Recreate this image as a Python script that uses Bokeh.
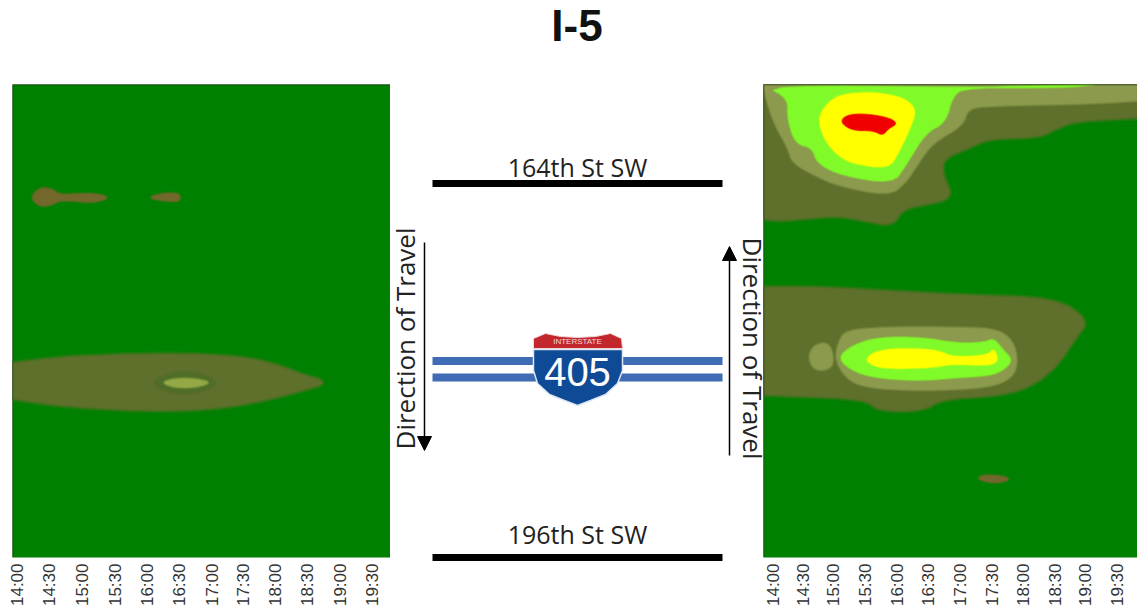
from math import pi
from bokeh.plotting import figure
from bokeh.layouts import row
from bokeh.models import Range1d, FixedTicker, Arrow, NormalHead, Span, Title
from bokeh.core.properties import value
from bokeh.embed import file_html
from bokeh.resources import INLINE

TICK_LABELS = ["14:00","14:30","15:00","15:30","16:00","16:30","17:00","17:30","18:00","18:30","19:00","19:30"]
LEFT_TICKS = [5, 37, 70, 103, 135, 167, 200, 231, 263, 295, 328, 360]
RIGHT_TICKS = [9, 40, 70, 102, 134, 165, 197, 229, 260, 292, 322, 354]

GREEN = "#008000"; BROWN = "#5f6f2c"; RUST = "#72682c"; TAN = "#8b9a4c"
LIME = "#80fa28"; YELLOW = "#ffff00"; RED = "#f00000"

# Left panel: contours in grid cells (time cell, position cell)
L_MAIN_X = [0,48,118,188,238,268,288,316,288,258,218,168,108,48,0]
L_MAIN_Y = [279,273,270,270,274,282,290,298,306,314,322,326,325,321,314]
L_HALO_X = [140,155,172,190,205,190,172,155]
L_HALO_Y = [298,291,288,291,298,306,309,306]
L_CORE_X = [150,160,172,185,198,185,172,160]
L_CORE_Y = [298,295,294,295,298,302,303,302]
L_SPOT1_X = [18,28,40,46,60,80,98,80,60,46,40,28]
L_SPOT1_Y = [113,103,105,110,110,109,113,118,116,116,120,122]
L_SPOT2_X = [136,150,165,168,165,150]
L_SPOT2_Y = [113,109,109,113,117,116]

# Right panel: upper congestion
R1_BROWN_X = [0,15,49,75,102,129,139,165,189,179,179,205,225,259,279,292,312,374,374,0]
R1_BROWN_Y = [135,137,134,132,137,142,125,120,114,92,75,64,55,54,52,45,37,34,0,0]
R1_TAN_X = [0,5,12,25,29,52,75,125,142,155,169,199,204,225,325,374,374,0]
R1_TAN_Y = [3,22,42,65,79,92,102,112,99,79,59,42,25,22,20,17,0,0]
R1_LIME_X = [2,25,24,32,49,54,79,129,142,162,182,189,202,330,300,202]
R1_LIME_Y = [2,15,35,60,64,80,92,100,82,49,39,12,4,1,4,4]
R1_YEL_X = [69,55,59,72,89,125,135,149,152,139,112,85]
R1_YEL_Y = [15,32,52,70,80,85,69,39,25,14,9,10]
R1_RED_X = [77,82,99,125,134,125,119,110,89]
R1_RED_Y = [39,32,30,34,40,45,52,47,47]

# Right panel: lower congestion
R2_BROWN_X = [0,59,142,205,292,325,312,292,265,232,179,159,115,102,25,0]
R2_BROWN_Y = [204,204,209,212,215,237,254,284,304,312,315,327,327,315,312,311]
R2_TAN_X = [82,125,175,232,249,254,249,225,159,102,82,72,75]
R2_TAN_Y = [247,244,244,245,257,277,294,304,307,304,294,275,260]
R2_TAN2_X = [45,50,65,70,67,52]
R2_TAN2_Y = [275,262,259,275,285,287]
R2_LIME_X = [74,89,115,159,192,222,230,240,249,239,225,192,159,119,92]
R2_LIME_Y = [275,262,254,254,260,259,255,267,277,287,292,294,297,295,289]
R2_YEL_X = [102,115,142,175,189,225,230,235,225,189,169,125,109]
R2_YEL_Y = [275,267,265,267,274,272,265,277,282,280,284,285,282]
R2_SPOT_X = [212,225,249,232]
R2_SPOT_Y = [395,391,395,400]

# Middle diagram: roads, labels, shield
STREET_NAMES = ["164th St SW", "196th St SW"]
STREET_LABEL_Y = [166, 533]
SHIELD_X = [533,533,537,549,564,577,590,605,617,622,622]
SHIELD_Y = [349,370,383,394,400,405,400,394,383,370,349]
CROWN_X = [533,545,560,577,595,610,621,622,533]
CROWN_Y = [338,333,336,337,336,333,338,348,348]
BAND_Y = [360.5, 377]

TOP = 121
LIFT = 37
HEIGHT = 610 + LIFT


def smooth(xs, ys, xmax, rounds=2):
    """Round the corners of a read-off contour; points on the panel edge stay put."""
    pts = list(zip(xs, ys))
    for _ in range(rounds):
        out = []
        n = len(pts)
        for i, (x, y) in enumerate(pts):
            if x <= 0 or y <= 1 or x >= xmax:
                out.append((x, y))
                continue
            px, py = pts[i - 1]
            nx, ny = pts[(i + 1) % n]
            out.append((0.75 * x + 0.25 * px, 0.75 * y + 0.25 * py))
            out.append((0.75 * x + 0.25 * nx, 0.75 * y + 0.25 * ny))
        pts = out
    return [p[0] for p in pts], [p[1] for p in pts]


def panel(width, x_end, y_start, y_end, ticks, left, **kw):
    p = figure(width=width, height=HEIGHT, output_backend="svg", toolbar_location=None,
               x_range=Range1d(0, x_end), y_range=Range1d(y_end, y_start),
               min_border_top=TOP, min_border_bottom=53, min_border_left=left, min_border_right=0,
               background_fill_color=GREEN, border_fill_color="white", outline_line_color=None, **kw)
    p.yaxis.visible = False
    p.grid.visible = False
    ax = p.xaxis[0]
    ax.ticker = FixedTicker(ticks=ticks)
    ax.major_label_overrides = {t: s for t, s in zip(ticks, TICK_LABELS)}
    ax.major_label_orientation = pi / 2
    ax.major_label_text_font = "Liberation Sans"
    ax.major_label_text_font_size = "17px"
    ax.major_label_text_color = "#333333"
    ax.major_label_standoff = 6
    ax.major_tick_in = 0
    ax.major_tick_out = 0
    ax.axis_line_color = None
    ax.major_tick_line_color = None
    ax.minor_tick_line_color = None
    p.add_layout(Span(location=y_start, dimension="width", line_color="#2a3a20", line_width=1.5))
    p.add_layout(Span(location=0, dimension="height", line_color="#2a3a20", line_width=1.5))
    return p


def blob(p, xs, ys, color, soft, xmax):
    sx, sy = smooth(xs, ys, xmax)
    p.patch(sx, sy, fill_color=None, line_color=color, line_alpha=0.3, line_width=soft * 2, line_join="round")
    p.patch(sx, sy, fill_color=color, line_color=color, line_alpha=0.55, line_width=soft, line_join="round")


left = panel(390, 378, 0, 473, LEFT_TICKS, 12)
for xs, ys, c, s in [
    (L_MAIN_X, L_MAIN_Y, BROWN, 3), (L_HALO_X, L_HALO_Y, "#4f6e28", 3), (L_CORE_X, L_CORE_Y, "#94a845", 2),
    (L_SPOT1_X, L_SPOT1_Y, RUST, 2), (L_SPOT2_X, L_SPOT2_Y, RUST, 2),
]:
    blob(left, xs, ys, c, s, 378)

right = panel(374, 374, 1, 474, RIGHT_TICKS, 0, margin=(0, 0, 0, -7))
for xs, ys, c, s in [
    (R1_BROWN_X, R1_BROWN_Y, BROWN, 3), (R1_TAN_X, R1_TAN_Y, TAN, 2), (R1_LIME_X, R1_LIME_Y, LIME, 1.5),
    (R1_YEL_X, R1_YEL_Y, YELLOW, 1.5), (R1_RED_X, R1_RED_Y, RED, 1),
    (R2_BROWN_X, R2_BROWN_Y, BROWN, 3), (R2_TAN_X, R2_TAN_Y, TAN, 2), (R2_TAN2_X, R2_TAN2_Y, TAN, 2),
    (R2_LIME_X, R2_LIME_Y, LIME, 1.5), (R2_YEL_X, R2_YEL_Y, YELLOW, 1.5), (R2_SPOT_X, R2_SPOT_Y, RUST, 2),
]:
    blob(right, xs, ys, c, s, 374)

mid = figure(width=387, height=HEIGHT, output_backend="svg", toolbar_location=None,
             x_range=Range1d(383, 770), y_range=Range1d(557, 84),
             min_border_top=TOP, min_border_bottom=53, min_border_left=0, min_border_right=0,
             outline_line_color=None, background_fill_color=None, border_fill_color=None,
             margin=(0, 0, 0, -7))
mid.yaxis.visible = False
mid.grid.visible = False
# The baseline road line runs along the frame's lower edge, so it is the axis line itself
ax = mid.xaxis[0]
ax.ticker = FixedTicker(ticks=[])
ax.bounds = (432, 722)
ax.axis_line_color = "black"
ax.axis_line_width = 7
ax.major_tick_line_color = None
ax.minor_tick_line_color = None

mid.add_layout(Title(text="I-5", align="center", text_font="Liberation Sans",
                     text_font_style="bold", text_font_size="44px", text_color="#111111", standoff=69), "above")
mid.text([577] * 2, STREET_LABEL_Y, text=STREET_NAMES, text_font=value("Open Sans"), text_font_size="25px",
         text_color="#222222", text_align="center", text_baseline="middle")
mid.segment([432], [183], [722], [183], line_color="black", line_width=7)
mid.segment([432] * 2, BAND_Y, [722] * 2, BAND_Y, line_color="#3f6cb5", line_width=8)
mid.patch(SHIELD_X, SHIELD_Y, fill_color="#0f4a96", line_color="#dbe7f5", line_width=1.5)
mid.patch(CROWN_X, CROWN_Y, fill_color="#c1272d", line_color="#f2d5d5", line_width=1)
mid.text([577], [341], text=["INTERSTATE"], text_font=value("Liberation Sans"), text_font_size="8px",
         text_color="#f4d8d8", text_align="center", text_baseline="middle")
mid.text([577], [371], text=["405"], text_font=value("Liberation Sans"), text_font_size="40px",
         text_color="white", text_align="center", text_baseline="middle")
mid.text([404], [338], text=["Direction of Travel"], angle=pi / 2, text_font=value("Open Sans"),
         text_font_size="26px", text_color="#222222", text_align="center", text_baseline="middle")
mid.text([752], [348], text=["Direction of Travel"], angle=-pi / 2, text_font=value("Open Sans"),
         text_font_size="26px", text_color="#222222", text_align="center", text_baseline="middle")
for x0, y0, y1 in [(424, 242, 450), (729, 455, 246)]:
    mid.add_layout(Arrow(x_start=x0, y_start=y0, x_end=x0, y_end=y1, line_color="black", line_width=1.5,
                         end=NormalHead(size=14, fill_color="black", line_color="black")))

page = row(left, mid, right, spacing=0, margin=(-LIFT, 0, 0, 0))
open("out.html", "w").write(file_html(page, INLINE))
